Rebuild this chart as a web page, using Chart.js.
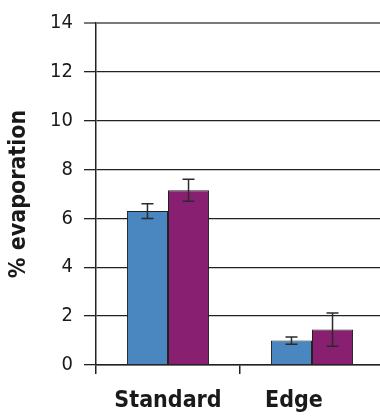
<!DOCTYPE html>
<html>
<head>
<meta charset="utf-8">
<script src="https://cdn.jsdelivr.net/npm/chart.js@4/dist/chart.umd.min.js"></script>
<style>
  html, body { margin: 0; padding: 0; background: #fff; overflow: hidden; }
  #wrap { width: 384px; height: 417px; }
</style>
</head>
<body>
<div id="wrap"><canvas id="chart" width="384" height="417"></canvas></div>
<script>
// % evaporation, Standard vs Edge wells
const categories = ['Standard', 'Edge'];
const seriesA    = [6.3, 1.0];     // blue
const errA       = [0.3, 0.15];
const seriesB    = [7.15, 1.45];   // purple
const errB       = [0.45, 0.68];
const yTicks     = [0, 2, 4, 6, 8, 10, 12, 14];

const FONT = "'DejaVu Sans Condensed', 'Liberation Sans Narrow', sans-serif";
const INK  = '#222';

// error bars drawn from the same y scale
const errorBars = {
  id: 'errorBars',
  afterDatasetsDraw(chart) {
    const { ctx, scales: { y } } = chart;
    const errs = [errA, errB];
    const vals = [seriesA, seriesB];
    ctx.save();
    ctx.strokeStyle = '#2b2b2b';
    ctx.lineWidth = 1.5;
    chart.data.datasets.forEach((ds, di) => {
      chart.getDatasetMeta(di).data.forEach((bar, i) => {
        const v = vals[di][i], e = errs[di][i];
        const top = y.getPixelForValue(v + e);
        const bot = y.getPixelForValue(v - e);
        const x = bar.x;
        ctx.beginPath();
        ctx.moveTo(x, top); ctx.lineTo(x, bot);
        ctx.moveTo(x - 6, top); ctx.lineTo(x + 6, top);
        ctx.moveTo(x - 6, bot); ctx.lineTo(x + 6, bot);
        ctx.stroke();
      });
    });
    ctx.restore();
  }
};

new Chart(document.getElementById('chart'), {
  type: 'bar',
  data: {
    // trailing spaces pull the "Edge" label left, like the original
    labels: [categories[0], categories[1] + '     '],
    datasets: [
      { data: seriesA, backgroundColor: '#4a87c0', borderColor: INK, borderWidth: 1 },
      { data: seriesB, backgroundColor: '#891f70', borderColor: INK, borderWidth: 1 },
    ],
  },
  options: {
    responsive: false,
    animation: false,
    events: [],
    layout: { padding: { top: 15, right: 0, left: 0, bottom: 0 } },
    datasets: { bar: { categoryPercentage: 0.57, barPercentage: 1.0 } },
    plugins: { legend: { display: false }, tooltip: { enabled: false } },
    scales: {
      x: {
        grid: { drawOnChartArea: false, color: INK, lineWidth: 1.5, tickLength: 9, offset: true },
        border: { color: INK, width: 1.5 },
        ticks: { color: '#1a1a1a', padding: 13, maxRotation: 0, font: { family: FONT, size: 23, weight: 'bold' } },
        afterFit: s => { s.height = 52; },
      },
      y: {
        min: 0, max: 14,
        afterBuildTicks: s => { s.ticks = yTicks.map(v => ({ value: v })); },
        grid: {
          color: c => c.tick && c.tick.value === 14 ? '#7a7a7a' : INK,
          lineWidth: c => c.tick && c.tick.value === 14 ? 2 : 1.3,
          tickLength: 12,
        },
        border: { color: INK, width: 1.5 },
        ticks: { color: '#1a1a1a', padding: 11, font: { family: FONT, size: 20 } },
        title: {
          display: true, text: '% evaporation', color: '#1a1a1a',
          padding: { top: 5, bottom: 0 },
          font: { family: FONT, size: 23, weight: 'bold' },
        },
        afterFit: s => { s.width = 96; },
      },
    },
  },
  plugins: [errorBars],
});
</script>
</body>
</html>
